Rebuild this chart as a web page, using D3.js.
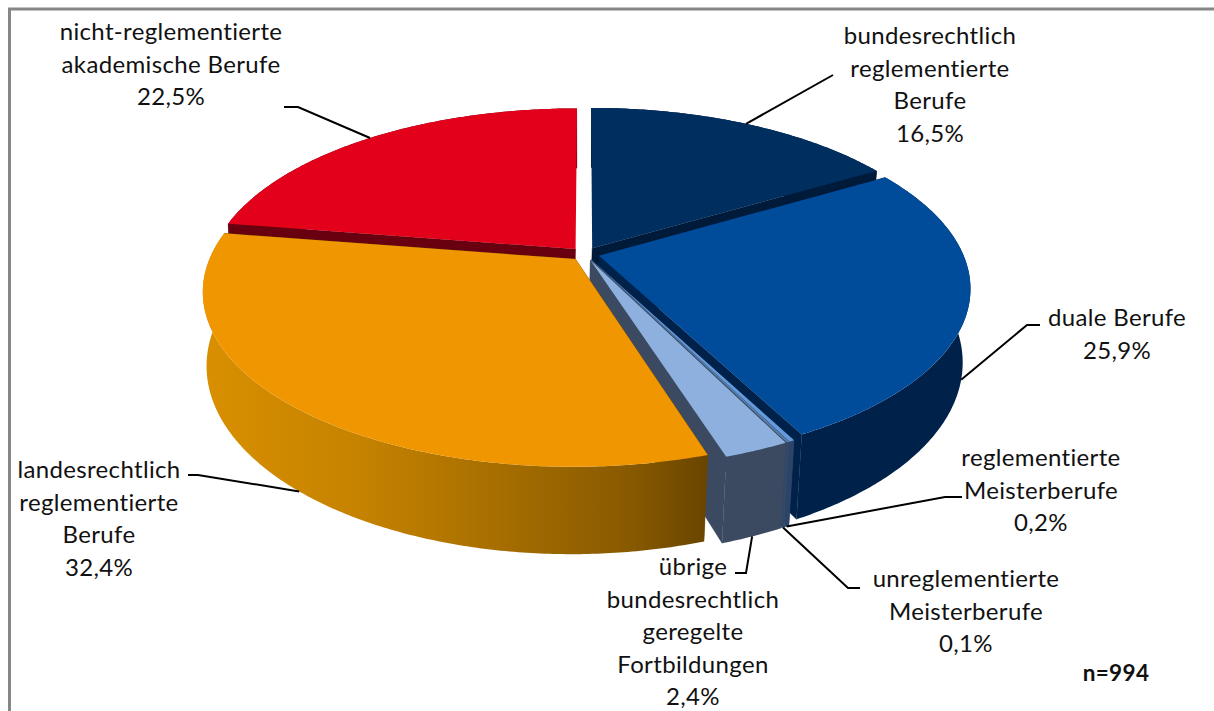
<!DOCTYPE html>
<html lang="de">
<head>
<meta charset="utf-8">
<script src="https://cdn.jsdelivr.net/npm/d3@7"></script>
<style>
html,body{margin:0;padding:0;background:#fff;overflow:hidden}
svg{display:block}
text{font-family:Lato,"Noto Sans",sans-serif;font-size:24px;letter-spacing:0.35px;font-variant-ligatures:none;fill:#111}
</style>
</head>
<body>
<svg id="chart" width="1214" height="711"></svg>
<script>
// ---- data ----
const categories = ["bundesrechtlich reglementierte Berufe","duale Berufe","reglementierte Meisterberufe","unreglementierte Meisterberufe","übrige bundesrechtlich geregelte Fortbildungen","landesrechtlich reglementierte Berufe","nicht-reglementierte akademische Berufe"];
const shares = [16.5,25.9,0.2,0.1,2.4,32.4,22.5];
const shareLabels = ["16,5%","25,9%","0,2%","0,1%","2,4%","32,4%","22,5%"];
const sampleSize = "n=994";

// ---- label wrapping and placement (layout, not data) ----
const labelLines = [
  ["bundesrechtlich","reglementierte","Berufe"],["duale Berufe"],["reglementierte","Meisterberufe"],
  ["unreglementierte","Meisterberufe"],["übrige","bundesrechtlich","geregelte","Fortbildungen"],
  ["landesrechtlich","reglementierte","Berufe"],["nicht-reglementierte","akademische Berufe"]];
const labelCentres = [[930,44],[1117,326],[1041,466],[966,587],[693,575],[99,478],[171,40]];
const lineStep = 32.6;
const leaderElbows = [
  [[833,75],[833,75]],[[1027,325],[1040,325]],[[945,497],[962,497]],[[848,588],[860,588]],
  [[746,573],[735,573]],[[198,475],[188,475]],[[298,107],[284,107]]];
const leaderOnBase = [false,true,true,true,true,true,false];
const sliceTop  = ["#002e5f","#004c9b","#649bdf","#5c7ea6","#8db0de","#f09600","#e2001a"];
const sliceWall = ["#001a3a","#00224a","#2c4468","#33496a","#3b4a60","url(#orangeWall)","#68000f"];
const paintOrder = [0,6,1,2,3,4,5];

// ---- perspective pie geometry ----
const cx = 585, cy = 254, radiusX = 364, radiusY = 167.8, persp = 0.182;
const depth = 71, baseShrink = 0.985, explode = 0.04;
const baseShift = d3.scaleLinear().domain([0.86,0.97]).range([0,-2]).clamp(true);

const svg = d3.select("#chart");
const defs = svg.append("defs");
const grad = defs.append("linearGradient").attr("id","orangeWall")
  .attr("gradientUnits","userSpaceOnUse").attr("x1",205).attr("x2",707).attr("y1",0).attr("y2",0);
[[0,"#d98f00"],[0.3,"#c68300"],[0.6,"#a56d00"],[0.85,"#875900"],[1,"#6a4500"]]
  .forEach(([o,c]) => grad.append("stop").attr("offset",o).attr("stop-color",c));

function project(U,V){
  const s = 1/(1-persp*V);
  return {x:cx+radiusX*U*s, y:cy+radiusY*V*s, s};
}
const pie = d3.pie().sort(null).value(d=>d).startAngle(0).endAngle(2*Math.PI);
const arcs = pie(shares);
const line = d3.line().x(d=>d[0]).y(d=>d[1]);

function makeSlice(a){
  const mid = (a.startAngle+a.endAngle)/2;
  const off = [explode*Math.sin(mid), -explode*Math.cos(mid)];
  const pt = (r,t) => project(off[0]+r*Math.sin(t), off[1]-r*Math.cos(t));
  const top = p => [p.x,p.y];
  const base = p => [cx+baseShift(p.s)+(p.x-cx)*baseShrink, p.y+depth*p.s];
  const n = Math.max(2, Math.ceil((a.endAngle-a.startAngle)/0.01));
  const ts = d3.range(n+1).map(i=>a.startAngle+(a.endAngle-a.startAngle)*i/n);
  return {mid, pt, top, base, ts};
}
const slices = arcs.map(makeSlice);

// frame
svg.append("path").attr("d","M9.5,711V9H1214").attr("fill","none").attr("stroke","#868686").attr("stroke-width",3);

// pie
const gPie = svg.append("g");
paintOrder.forEach(i=>{
  const S = slices[i], a = arcs[i];
  const c = S.pt(0,0);
  const rim = S.ts.map(t=>S.pt(1,t));
  const g = gPie.append("g").attr("class","slice");
  const wall = sliceWall[i] ;
  const innerFill = i===5 ? "#6a4500" : wall;
  // the seam at twelve o'clock faces away from the viewer, so it gets no wall
  [a.startAngle,a.endAngle].filter(t=>t>0 && t<2*Math.PI-1e-6).forEach(t=>{
    const r = S.pt(1,t);
    g.append("path").attr("fill",innerFill).attr("stroke",innerFill).attr("stroke-width",0.4)
      .attr("d",line([S.top(c),S.top(r),S.base(r),S.base(c)])+"Z");
  });
  g.append("path").attr("fill",wall)
    .attr("d",line(rim.map(S.top).concat(rim.map(S.base).reverse()))+"Z");
  g.append("path").attr("fill",sliceTop[i])
    .attr("d",line([S.top(c)].concat(rim.map(S.top)))+"Z");
});

// leaders
const gLead = svg.append("g");
slices.forEach((S,i)=>{
  const p = S.pt(1,S.mid);
  const start = leaderOnBase[i] ? S.base(p) : S.top(p);
  gLead.append("path").attr("fill","none").attr("stroke","#000").attr("stroke-width",2)
    .attr("d",line([start].concat(leaderElbows[i])));
});

// labels
labelLines.forEach((ls,i)=>{
  const t = svg.append("text").attr("text-anchor","middle");
  ls.concat([shareLabels[i]]).forEach((l,j)=>{
    t.append("tspan").attr("x",labelCentres[i][0]).attr("y",labelCentres[i][1]+j*lineStep).text(l);
  });
});
svg.append("text").attr("x",1116).attr("y",681).attr("text-anchor","middle")
  .style("font-weight",700).style("font-size","22.5px").text(sampleSize);
</script>
</body>
</html>
